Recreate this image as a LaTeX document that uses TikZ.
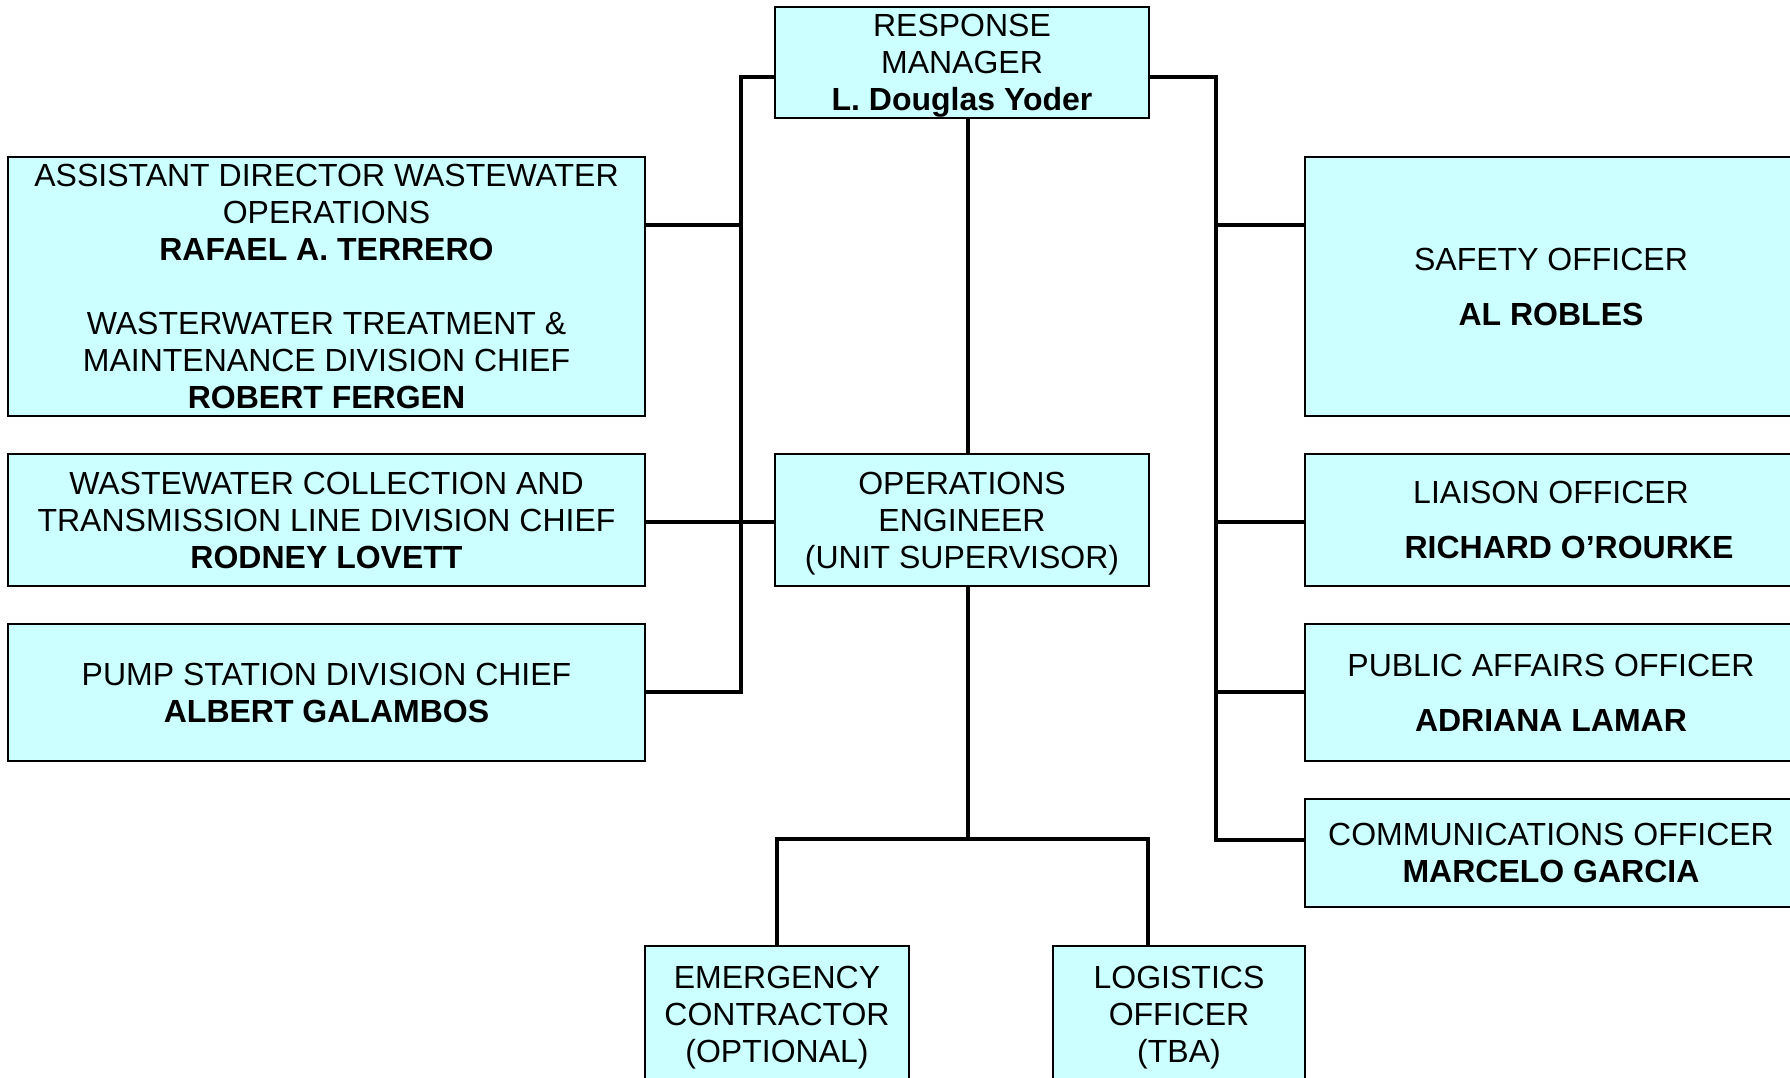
\documentclass[tikz,border=0pt]{standalone}
\usepackage{fontspec}
\setmainfont{Liberation Sans}
\definecolor{boxfill}{HTML}{CCFFFF}
\newcommand{\nodepth}[1]{\raisebox{0pt}[\height][0pt]{#1}}
\tikzset{
  orgbox/.style={draw=black, fill=boxfill, line width=2.2pt, inner sep=0pt,
    align=center, font=\fontsize{32}{37}\selectfont, anchor=center},
  conn/.style={draw=black, line width=3.4pt, line join=miter}
}
\begin{document}
\begin{tikzpicture}[x=1pt,y=-1pt]
\useasboundingbox (0,0) rectangle (1790,1078);
\clip (0,0) rectangle (1790,1078);

% level coordinates
\coordinate (ry) at (0,77);
\coordinate (y1) at (0,225);
\coordinate (y2) at (0,522);
\coordinate (y3) at (0,692);
\coordinate (y4) at (0,840);
\coordinate (lb) at (741,0);
\coordinate (rb) at (1216,0);
\coordinate (cv) at (968,0);
\coordinate (lr) at (1148,839);

% boxes
\node[orgbox, minimum width=374pt, minimum height=111pt] (rm) at (962,62.5)
  {RESPONSE\\MANAGER\\\nodepth{\textbf{L. Douglas Yoder}}};
\node[orgbox, minimum width=637pt, minimum height=259pt] (ada) at (326.5,286.5)
  {ASSISTANT DIRECTOR WASTEWATER\\OPERATIONS\\\textbf{RAFAEL A. TERRERO}\\[37pt]WASTERWATER TREATMENT \&\\MAINTENANCE DIVISION CHIEF\\\textbf{ROBERT FERGEN}};
\node[orgbox, minimum width=637pt, minimum height=132pt] (wcl) at (326.5,520)
  {WASTEWATER COLLECTION AND\\TRANSMISSION LINE DIVISION CHIEF\\\textbf{RODNEY LOVETT}};
\node[orgbox, minimum width=637pt, minimum height=137pt] (psd) at (326.5,692.5)
  {PUMP STATION DIVISION CHIEF\\\textbf{ALBERT GALAMBOS}};
\node[orgbox, minimum width=374pt, minimum height=132pt] (oe) at (962,520)
  {OPERATIONS\\ENGINEER\\\nodepth{(UNIT SUPERVISOR)}};
\node[orgbox, minimum width=492pt, minimum height=259pt] (saf) at (1551,286.5)
  {SAFETY OFFICER\\[18pt]\textbf{AL ROBLES}};
\node[orgbox, minimum width=492pt, minimum height=132pt] (lia) at (1551,520)
  {LIAISON OFFICER\\[18pt]\hspace*{36pt}\textbf{RICHARD O’ROURKE}};
\node[orgbox, minimum width=492pt, minimum height=137pt] (pub) at (1551,692.5)
  {PUBLIC AFFAIRS OFFICER\\[18pt]\textbf{ADRIANA LAMAR}};
\node[orgbox, minimum width=492pt, minimum height=108pt] (com) at (1551,853)
  {COMMUNICATIONS OFFICER\\\textbf{MARCELO GARCIA}};
\node[orgbox, minimum width=264pt, minimum height=136pt] (emc) at (777,1014)
  {EMERGENCY\\CONTRACTOR\\\nodepth{(OPTIONAL)}};
\node[orgbox, minimum width=252pt, minimum height=136pt] (log) at (1179,1014)
  {LOGISTICS\\OFFICER\\\nodepth{(TBA)}};

% left bus
\draw[conn] (rm.west |- ry) -| (lb |- y3) -- (psd.east |- y3);
\draw[conn] (lb |- y1) -- (ada.east |- y1);
\draw[conn] (wcl.east |- y2) -- (oe.west |- y2);
% right bus
\draw[conn] (rm.east |- ry) -| (rb |- y4) -- (com.west |- y4);
\draw[conn] (rb |- y1) -- (saf.west |- y1);
\draw[conn] (rb |- y2) -- (lia.west |- y2);
\draw[conn] (rb |- y3) -- (pub.west |- y3);
% centre trunk
\draw[conn] (rm.south -| cv) -- (oe.north -| cv);
\draw[conn] (oe.south -| cv) -- (cv |- lr);
\draw[conn] (emc.north) |- (lr) -- (lr |- log.north);
\end{tikzpicture}
\end{document}
